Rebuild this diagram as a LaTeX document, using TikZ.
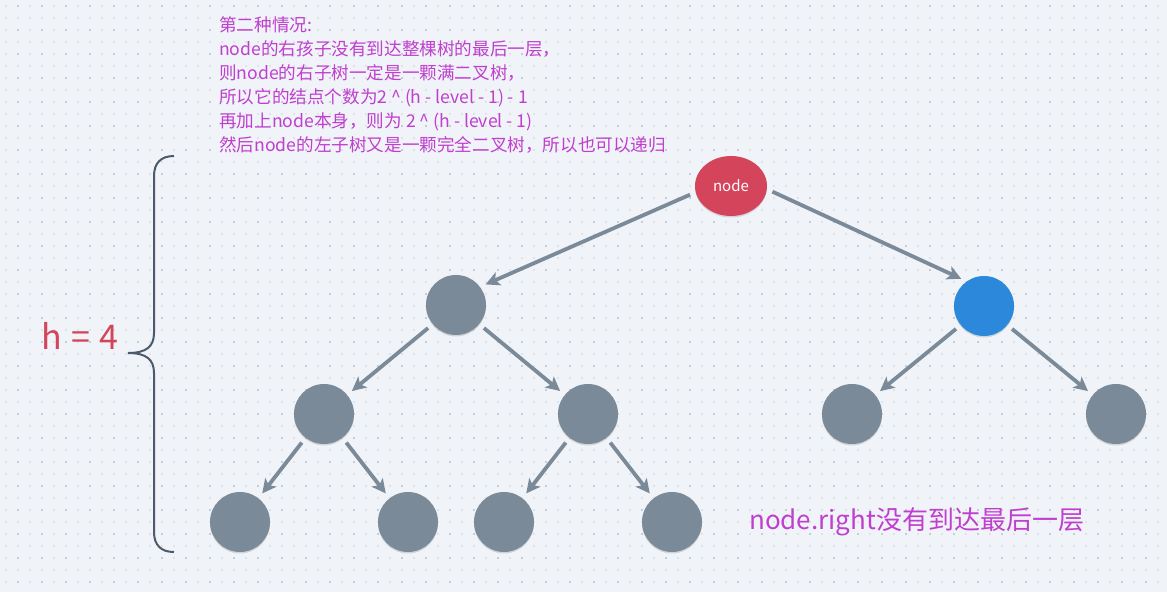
\documentclass[tikz,border=0pt]{standalone}
\usepackage{fontspec}
\setmainfont{Noto Sans CJK SC}
\usetikzlibrary{positioning}
\usetikzlibrary{arrows.meta}
\usetikzlibrary{shapes.geometric}
\usetikzlibrary{shadows}

\definecolor{bgcol}{HTML}{F0F3F7}
\definecolor{dotdark}{HTML}{C6CDD7}
\definecolor{dotlight}{HTML}{DFE3E9}
\definecolor{treegray}{HTML}{7B8A99}
\definecolor{treeblue}{HTML}{2B88DA}
\definecolor{treered}{HTML}{D4445B}
\definecolor{notepurple}{HTML}{C03ED0}
\definecolor{bracecol}{HTML}{4B5B6B}

\tikzset{
  treenode/.style={circle, fill=treegray, minimum size=60pt, inner sep=0pt,
    drop shadow={shadow xshift=0pt, shadow yshift=-1.5pt, opacity=0.12, fill=black}},
  rootnode/.style={ellipse, fill=treered, minimum width=72pt, minimum height=60pt,
    inner sep=0pt, text=white, font=\fontsize{15}{18}\selectfont,
    drop shadow={shadow xshift=0pt, shadow yshift=-1.5pt, opacity=0.12, fill=black}},
  treeedge/.style={draw=treegray, line width=3.8pt,
    -{Stealth[length=14pt, width=14pt, inset=3.5pt]},
    shorten <=6pt, shorten >=6pt},
  notetext/.style={text=notepurple, inner sep=0pt}
}

\begin{document}
\begin{tikzpicture}[x=1pt, y=-1pt, on grid]
  % background and dot grid
  \fill[bgcol] (0,0) rectangle (1167,592);
  \useasboundingbox (0,0) rectangle (1167,592);
  \foreach \x in {6,18,...,1158}
    \foreach \y in {6,18,...,582}
      \fill[dotlight] (\x-1,\y-1) rectangle ++(2,2);
  \foreach \x in {18,42,...,1158}
    \foreach \y in {6,30,...,582}
      \fill[dotdark] (\x-1,\y-1) rectangle ++(2,2);

  % tree
  \node[rootnode] (root) at (731,186) {node};
  \node[treenode] (l) [below left=119pt and 275pt of root] {};
  \node[treenode, fill=treeblue] (r) [below right=120pt and 253pt of root] {};
  \node[treenode] (ll) [below left=109pt and 132pt of l] {};
  \node[treenode] (lr) [below right=109pt and 132pt of l] {};
  \node[treenode] (rl) [below left=108pt and 132pt of r] {};
  \node[treenode] (rr) [below right=108pt and 132pt of r] {};
  \node[treenode] (lll) [below left=108pt and 84pt of ll] {};
  \node[treenode] (llr) [below right=108pt and 84pt of ll] {};
  \node[treenode] (lrl) [below left=108pt and 84pt of lr] {};
  \node[treenode] (lrr) [below right=108pt and 84pt of lr] {};

  \path[every edge/.style=treeedge]
    (root.190) edge (l.37)
    (root.355) edge (r.125)
    (l) edge (ll)
        edge (lr)
    (r) edge (rl)
        edge (rr)
    (ll) edge (lll)
         edge (llr)
    (lr) edge (lrl)
         edge (lrr);

  % height brace
  \draw[bracecol, line width=2pt]
    (174,156) .. controls (161,156) and (154,163) .. (154,176) -- (154,333)
    .. controls (154,346) and (147,353) .. (128,353)
    .. controls (147,353) and (154,360) .. (154,373) -- (154,532)
    .. controls (154,545) and (161,552) .. (174,552);
  \node[text=treered, font=\fontsize{34}{40}\selectfont] (height) at (80,336) {h\hspace{2pt} = \hspace{2pt}4};

  % notes
  \node[notetext, anchor=north west, align=left, font=\fontsize{17.6}{24}\selectfont]
    (note) at (219,16) {第二种情况:\\
    node的右孩子没有到达整棵树的最后一层，\\
    则node的右子树一定是一颗满二叉树，\\
    所以它的结点个数为2 \textasciicircum{} (h - level - 1) - 1\\
    再加上node本身，则为 2 \textasciicircum{} (h - level - 1)\\
    然后node的左子树又是一颗完全二叉树，所以也可以递归};
  \node[notetext, anchor=west, font=\fontsize{26}{30}\selectfont]
    (caption) at (749,522) {node.right没有到达最后一层};
\end{tikzpicture}
\end{document}
